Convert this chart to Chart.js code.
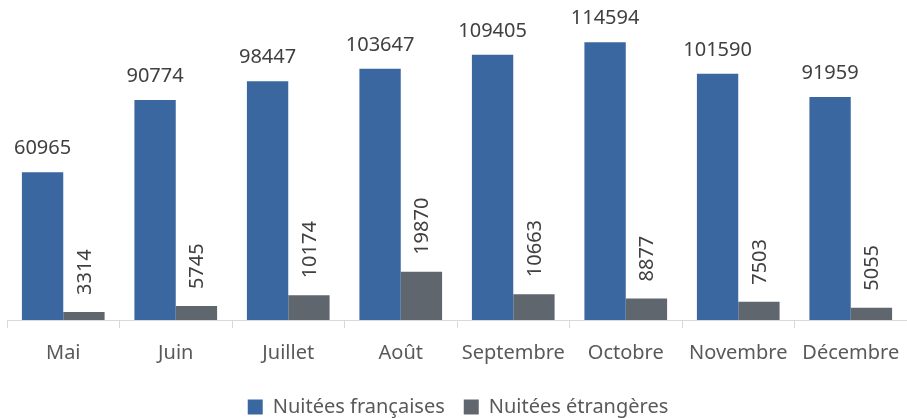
<!DOCTYPE html>
<html>
<head>
<meta charset="utf-8">
<script src="https://cdn.jsdelivr.net/npm/chart.js@4.4.0/dist/chart.umd.min.js"></script>
<style>
  html, body { margin: 0; padding: 0; background: #fff; }
  #wrap { width: 907px; height: 418px; position: relative; }
</style>
</head>
<body>
<div id="wrap"><canvas id="c"></canvas></div>
<script>
const months = ["Mai", "Juin", "Juillet", "Août", "Septembre", "Octobre", "Novembre", "Décembre"];
const nuiteesFrancaises = [60965, 90774, 98447, 103647, 109405, 114594, 101590, 91959];
const nuiteesEtrangeres = [3314, 5745, 10174, 19870, 10663, 8877, 7503, 5055];

const FONT = "'Noto Sans', 'Open Sans', sans-serif";
const TEXT = "#404040";

// Value labels: horizontal above the first series, vertical above the second
const valueLabels = {
  id: "valueLabels",
  afterDatasetsDraw(chart) {
    const ctx = chart.ctx;
    ctx.save();
    ctx.fillStyle = TEXT;
    ctx.font = "20px " + FONT;
    chart.data.datasets.forEach((ds, di) => {
      chart.getDatasetMeta(di).data.forEach((bar, i) => {
        const txt = String(ds.data[i]);
        if (di === 0) {
          ctx.textAlign = "center";
          ctx.textBaseline = "alphabetic";
          ctx.fillText(txt, bar.x, bar.y - 18);
        } else {
          ctx.save();
          ctx.translate(bar.x + 7, bar.y - 17);
          ctx.rotate(-Math.PI / 2);
          ctx.textAlign = "left";
          ctx.textBaseline = "alphabetic";
          ctx.fillText(txt, 0, 0);
          ctx.restore();
        }
      });
    });
    ctx.restore();
  }
};

new Chart(document.getElementById("c"), {
  type: "bar",
  data: {
    labels: months,
    datasets: [
      { label: "Nuitées françaises", data: nuiteesFrancaises, backgroundColor: "#3B67A0" },
      { label: "Nuitées étrangères", data: nuiteesEtrangeres, backgroundColor: "#60666E" }
    ]
  },
  options: {
    responsive: true,
    maintainAspectRatio: false,
    animation: false,
    layout: { padding: { left: 7, right: -2, top: 0, bottom: -9 } },
    datasets: { bar: { barPercentage: 1, categoryPercentage: 0.735 } },
    scales: {
      x: {
        // labels sit inside their categories, so no extra edge room is needed
        afterFit(scale) { scale.paddingLeft = 0; scale.paddingRight = 0; },
        grid: { display: true, offset: true, drawOnChartArea: false, drawTicks: true, tickLength: 8, color: "#D9D9D9" },
        border: { display: true, color: "#D9D9D9", width: 1 },
        ticks: { color: "#595959", font: { family: FONT, size: 20 }, padding: 13, maxRotation: 0, autoSkip: false }
      },
      y: {
        display: false,
        min: 0,
        max: 132000
      }
    },
    plugins: {
      legend: {
        position: "bottom",
        labels: {
          color: "#595959",
          font: { family: FONT, size: 20 },
          boxWidth: 15,
          boxHeight: 15,
          padding: 19
        }
      },
      tooltip: { enabled: false }
    }
  },
  plugins: [valueLabels]
});
</script>
</body>
</html>
